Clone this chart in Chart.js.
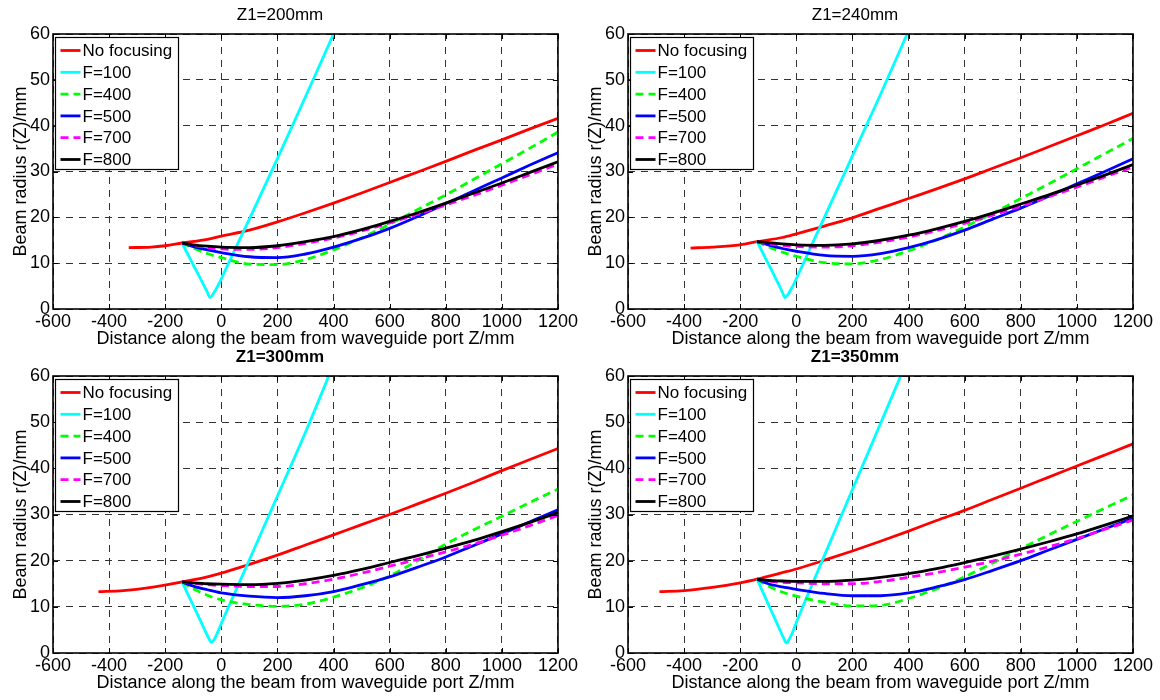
<!DOCTYPE html>
<html>
<head>
<meta charset="utf-8">
<script src="https://cdn.jsdelivr.net/npm/chart.js@4.4.1/dist/chart.umd.min.js"></script>
<style>
  body { margin: 0; background: #fff; width: 1160px; height: 700px; overflow: hidden; position: relative; }
  canvas { position: absolute; }
</style>
</head>
<body>
<canvas id="c0" width="580" height="350" style="left:0;top:0"></canvas>
<canvas id="c1" width="580" height="350" style="left:575px;top:0"></canvas>
<canvas id="c2" width="580" height="352" style="left:0;top:342px"></canvas>
<canvas id="c3" width="580" height="352" style="left:575px;top:342px"></canvas>
<script>
// legend labels and titles
const labels = ["No focusing", "F=100", "F=400", "F=500", "F=700", "F=800"];
const titles = ["Z1=200mm", "Z1=240mm", "Z1=300mm", "Z1=350mm"];
const xTicks = { min: -600, max: 1200, step: 200 };
const yTicks = { min: 0, max: 60, step: 10 };

// z positions shared by the focused curves (F=400..800)
const zFocus = [-140, -100, -50, 0, 100, 200, 300, 400, 500, 600, 700, 800, 900, 1000, 1100, 1200];

// Z1=200mm
const z200Free = [-330, -250, -200, -140, -50, 0, 100, 200, 300, 400, 500, 600, 700, 800, 900, 1000, 1100, 1200];
const r200Free = [13.4, 13.5, 13.8, 14.4, 15.2, 15.9, 17.2, 19.0, 21.0, 23.1, 25.3, 27.6, 29.9, 32.2, 34.6, 36.9, 39.3, 41.6];
const z200F100 = [-140, -120, -100, -80, -60, -50, -41, -30, -20, -10, 0, 50, 100, 200, 300, 400];
const r200F100 = [14.4, 12.0, 9.6, 7.3, 4.9, 3.7, 2.5, 3.2, 4.2, 5.3, 6.6, 13.2, 19.6, 32.8, 46.3, 60];
const r200F400 = [14.4, 13.3, 12.1, 11.2, 9.8, 9.7, 10.8, 12.9, 15.5, 18.5, 21.7, 24.9, 28.3, 31.7, 35.1, 38.6];
const r200F500 = [14.4, 13.6, 12.9, 12.3, 11.4, 11.2, 12.0, 13.5, 15.4, 17.6, 20.2, 23.0, 25.8, 28.6, 31.4, 34.1];
const r200F700 = [14.4, 13.9, 13.4, 13.1, 13.0, 13.4, 14.3, 15.5, 17.0, 18.8, 20.7, 22.7, 24.8, 27.0, 29.3, 31.6];
const r200F800 = [14.4, 14.0, 13.7, 13.5, 13.4, 13.8, 14.7, 15.8, 17.3, 19.1, 21.0, 23.1, 25.3, 27.5, 29.8, 32.1];

// Z1=240mm
const z240Free = [-377, -300, -200, -140, -50, 0, 100, 200, 300, 400, 500, 600, 700, 800, 900, 1000, 1100, 1200];
const r240Free = [13.3, 13.5, 14.0, 14.7, 15.6, 16.4, 18.1, 19.9, 22.0, 24.1, 26.2, 28.4, 30.7, 33.0, 35.4, 37.8, 40.2, 42.7];
const z240F100 = [-140, -120, -100, -80, -60, -50, -40, -30, -20, -10, 0, 50, 100, 200, 300, 395];
const r240F100 = [14.7, 12.3, 9.9, 7.5, 5.0, 3.7, 2.5, 3.1, 4.2, 5.3, 6.6, 13.3, 20.0, 33.4, 46.8, 60];
const r240F400 = [14.7, 13.6, 12.4, 11.5, 10.1, 9.85, 10.8, 12.7, 15.1, 17.9, 20.9, 24.1, 27.3, 30.6, 33.9, 37.2];
const r240F500 = [14.7, 14.0, 13.2, 12.6, 11.7, 11.5, 12.1, 13.4, 15.1, 17.2, 19.6, 22.0, 24.6, 27.3, 30.0, 32.8];
const r240F700 = [14.7, 14.2, 13.9, 13.65, 13.5, 13.8, 14.6, 15.7, 17.1, 18.7, 20.5, 22.4, 24.5, 26.6, 28.8, 31.0];
const r240F800 = [14.7, 14.5, 14.2, 14.0, 13.9, 14.2, 15.0, 16.1, 17.5, 19.1, 20.9, 22.9, 24.9, 27.05, 29.2, 31.5];

// Z1=300mm
const z300Free = [-438, -350, -250, -140, -50, 0, 100, 200, 300, 400, 500, 600, 700, 800, 900, 1000, 1100, 1200];
const r300Free = [13.3, 13.5, 14.2, 15.4, 16.5, 17.3, 19.2, 21.2, 23.4, 25.6, 27.8, 30.0, 32.3, 34.6, 37.0, 39.5, 41.9, 44.3];
const z300F100 = [-140, -120, -100, -80, -60, -45, -35, -25, -10, 0, 50, 100, 200, 300, 383];
const r300F100 = [15.4, 12.8, 10.3, 7.7, 5.1, 3.2, 2.3, 3.0, 4.9, 6.4, 13.3, 20.2, 34.0, 47.8, 60];
const r300F400 = [15.4, 13.9, 12.5, 11.5, 10.5, 10.1, 10.6, 12.1, 14.1, 16.7, 20.0, 23.6, 26.7, 29.6, 32.6, 35.5];
const r300F500 = [15.4, 14.5, 13.7, 13.0, 12.3, 12.0, 12.4, 13.3, 14.8, 16.5, 18.6, 20.8, 23.3, 25.8, 28.4, 31.0];
const r300F700 = [15.4, 15.1, 14.8, 14.6, 14.4, 14.4, 15.0, 16.0, 17.3, 18.8, 20.3, 21.9, 23.6, 25.5, 27.6, 29.8];
const r300F800 = [15.4, 15.2, 15.0, 14.9, 14.8, 15.1, 15.8, 16.8, 18.1, 19.6, 21.1, 22.7, 24.4, 26.3, 28.3, 30.4];

// Z1=350mm
const z350Free = [-488, -400, -300, -200, -140, -50, 0, 100, 200, 300, 400, 500, 600, 700, 800, 900, 1000, 1100, 1200];
const r350Free = [13.3, 13.5, 14.2, 15.2, 16.0, 17.4, 18.2, 20.1, 22.1, 24.2, 26.4, 28.7, 30.9, 33.3, 35.7, 38.1, 40.5, 42.9, 45.3];
const z350F100 = [-140, -120, -100, -80, -60, -45, -35, -25, -10, 0, 50, 100, 200, 300, 372];
const r350F100 = [16.0, 13.3, 10.6, 7.9, 5.2, 3.2, 2.2, 3.0, 5.0, 6.6, 13.9, 21.1, 35.4, 49.7, 60];
const r350F400 = [16.0, 14.5, 13.2, 12.3, 11.0, 10.2, 10.3, 11.8, 13.9, 16.5, 19.5, 22.6, 25.6, 28.5, 31.4, 34.2];
const r350F500 = [16.0, 15.0, 14.3, 13.8, 12.9, 12.4, 12.4, 13.0, 14.3, 15.9, 17.9, 20.0, 22.3, 24.6, 26.9, 29.2];
const r350F700 = [16.0, 15.6, 15.3, 15.2, 15.0, 15.0, 15.5, 16.4, 17.4, 18.6, 19.9, 21.4, 23.0, 24.8, 26.8, 28.8];
const r350F800 = [16.0, 15.7, 15.6, 15.5, 15.5, 15.8, 16.4, 17.2, 18.3, 19.6, 21.0, 22.5, 24.1, 25.8, 27.7, 29.7];

const panels = [
  { z: [z200Free, z200F100, zFocus, zFocus, zFocus, zFocus], r: [r200Free, r200F100, r200F400, r200F500, r200F700, r200F800] },
  { z: [z240Free, z240F100, zFocus, zFocus, zFocus, zFocus], r: [r240Free, r240F100, r240F400, r240F500, r240F700, r240F800] },
  { z: [z300Free, z300F100, zFocus, zFocus, zFocus, zFocus], r: [r300Free, r300F100, r300F400, r300F500, r300F700, r300F800] },
  { z: [z350Free, z350F100, zFocus, zFocus, zFocus, zFocus], r: [r350Free, r350F100, r350F400, r350F500, r350F700, r350F800] }
];

const colors = ["#ff0000", "#00ffff", "#00ff00", "#0000ff", "#ff00ff", "#000000"];
const dashes = [[], [], [8, 5], [], [8, 5], []];
const FONT = '"Liberation Sans", Arial, Helvetica, sans-serif';

Chart.defaults.font.family = FONT;
Chart.defaults.color = "#000";

// matlab style box, inward ticks and boxed legend
const frame = {
  id: "frame",
  afterDatasetsDraw(chart) {
    const { ctx, chartArea: a, scales: { x, y } } = chart;
    ctx.save();
    ctx.setLineDash([]);
    ctx.strokeStyle = "#000";
    ctx.lineWidth = 1;
    ctx.beginPath();
    x.ticks.forEach(t => {
      const px = Math.round(x.getPixelForValue(t.value)) + 0.5;
      ctx.moveTo(px, a.bottom); ctx.lineTo(px, a.bottom - 5);
      ctx.moveTo(px, a.top); ctx.lineTo(px, a.top + 5);
    });
    y.ticks.forEach(t => {
      const py = Math.round(y.getPixelForValue(t.value)) + 0.5;
      ctx.moveTo(a.left, py); ctx.lineTo(a.left + 5, py);
      ctx.moveTo(a.right, py); ctx.lineTo(a.right - 5, py);
    });
    ctx.stroke();
    ctx.lineWidth = 1.6;
    ctx.strokeRect(a.left, a.top, a.right - a.left, a.bottom - a.top);

    // legend
    ctx.font = "17px " + FONT;
    const sets = chart.data.datasets;
    const textW = Math.max(...sets.map(d => ctx.measureText(d.label).width));
    const bx = a.left + 2.5, by = a.top + 3.5;
    const bw = Math.round(27 + textW + 6), bh = 132;
    ctx.fillStyle = "#fff";
    ctx.fillRect(bx, by, bw, bh);
    ctx.lineWidth = 1.2;
    ctx.strokeRect(bx, by, bw, bh);
    ctx.textBaseline = "middle";
    sets.forEach((d, i) => {
      const ly = by + 13 + i * 21.8;
      ctx.strokeStyle = d.borderColor;
      ctx.lineWidth = 2.8;
      ctx.setLineDash(d.borderDash);
      ctx.beginPath();
      ctx.moveTo(bx + 5, ly); ctx.lineTo(bx + 25, ly);
      ctx.stroke();
      ctx.setLineDash([]);
      ctx.fillStyle = "#000";
      ctx.fillText(d.label, bx + 27, ly + 1);
    });
    ctx.restore();
  }
};

function makePanel(id, idx) {
  const p = panels[idx];
  const bold = idx >= 2;
  const datasets = labels.map((lab, i) => ({
    label: lab,
    data: p.z[i].map((z, k) => ({ x: z, y: p.r[i][k] })),
    borderColor: colors[i],
    borderDash: dashes[i],
    borderWidth: 2.8,
    pointRadius: 0,
    fill: false,
    cubicInterpolationMode: "monotone",
    order: labels.length - i
  }));
  new Chart(document.getElementById(id), {
    type: "line",
    data: { datasets },
    plugins: [frame],
    options: {
      responsive: false,
      animation: false,
      layout: { padding: { left: 0, right: 20, top: 0, bottom: 0 } },
      plugins: {
        legend: { display: false },
        tooltip: { enabled: false },
        title: {
          display: true,
          text: titles[idx],
          color: "#000",
          font: { size: 17, weight: bold ? "bold" : "normal" },
          padding: { top: 5, bottom: 8.6 }
        }
      },
      scales: {
        x: {
          type: "linear",
          min: xTicks.min, max: xTicks.max,
          ticks: { stepSize: xTicks.step, color: "#000", font: { size: 18 }, padding: 2, maxRotation: 0, autoSkip: false, callback: v => String(v) },
          grid: { color: "#333", lineWidth: 1, drawTicks: false },
          border: { display: false, dash: [7, 6] },
          title: { display: true, text: "Distance along the beam from waveguide port Z/mm", color: "#000", font: { size: 18 }, padding: { top: 0, bottom: 0 } },
          afterFit: s => { s.height = 41; }
        },
        y: {
          min: yTicks.min, max: yTicks.max,
          ticks: { stepSize: yTicks.step, color: "#000", font: { size: 18 }, padding: 3, callback: v => String(v) },
          grid: { color: "#333", lineWidth: 1, drawTicks: false },
          border: { display: false, dash: [7, 6] },
          title: { display: true, text: "Beam radius r(Z)/mm", color: "#000", font: { size: 18 }, padding: { top: 10, bottom: 0 } },
          afterFit: s => { s.width = 53; }
        }
      }
    }
  });
}

["c0", "c1", "c2", "c3"].forEach((id, i) => makePanel(id, i));
</script>
</body>
</html>
